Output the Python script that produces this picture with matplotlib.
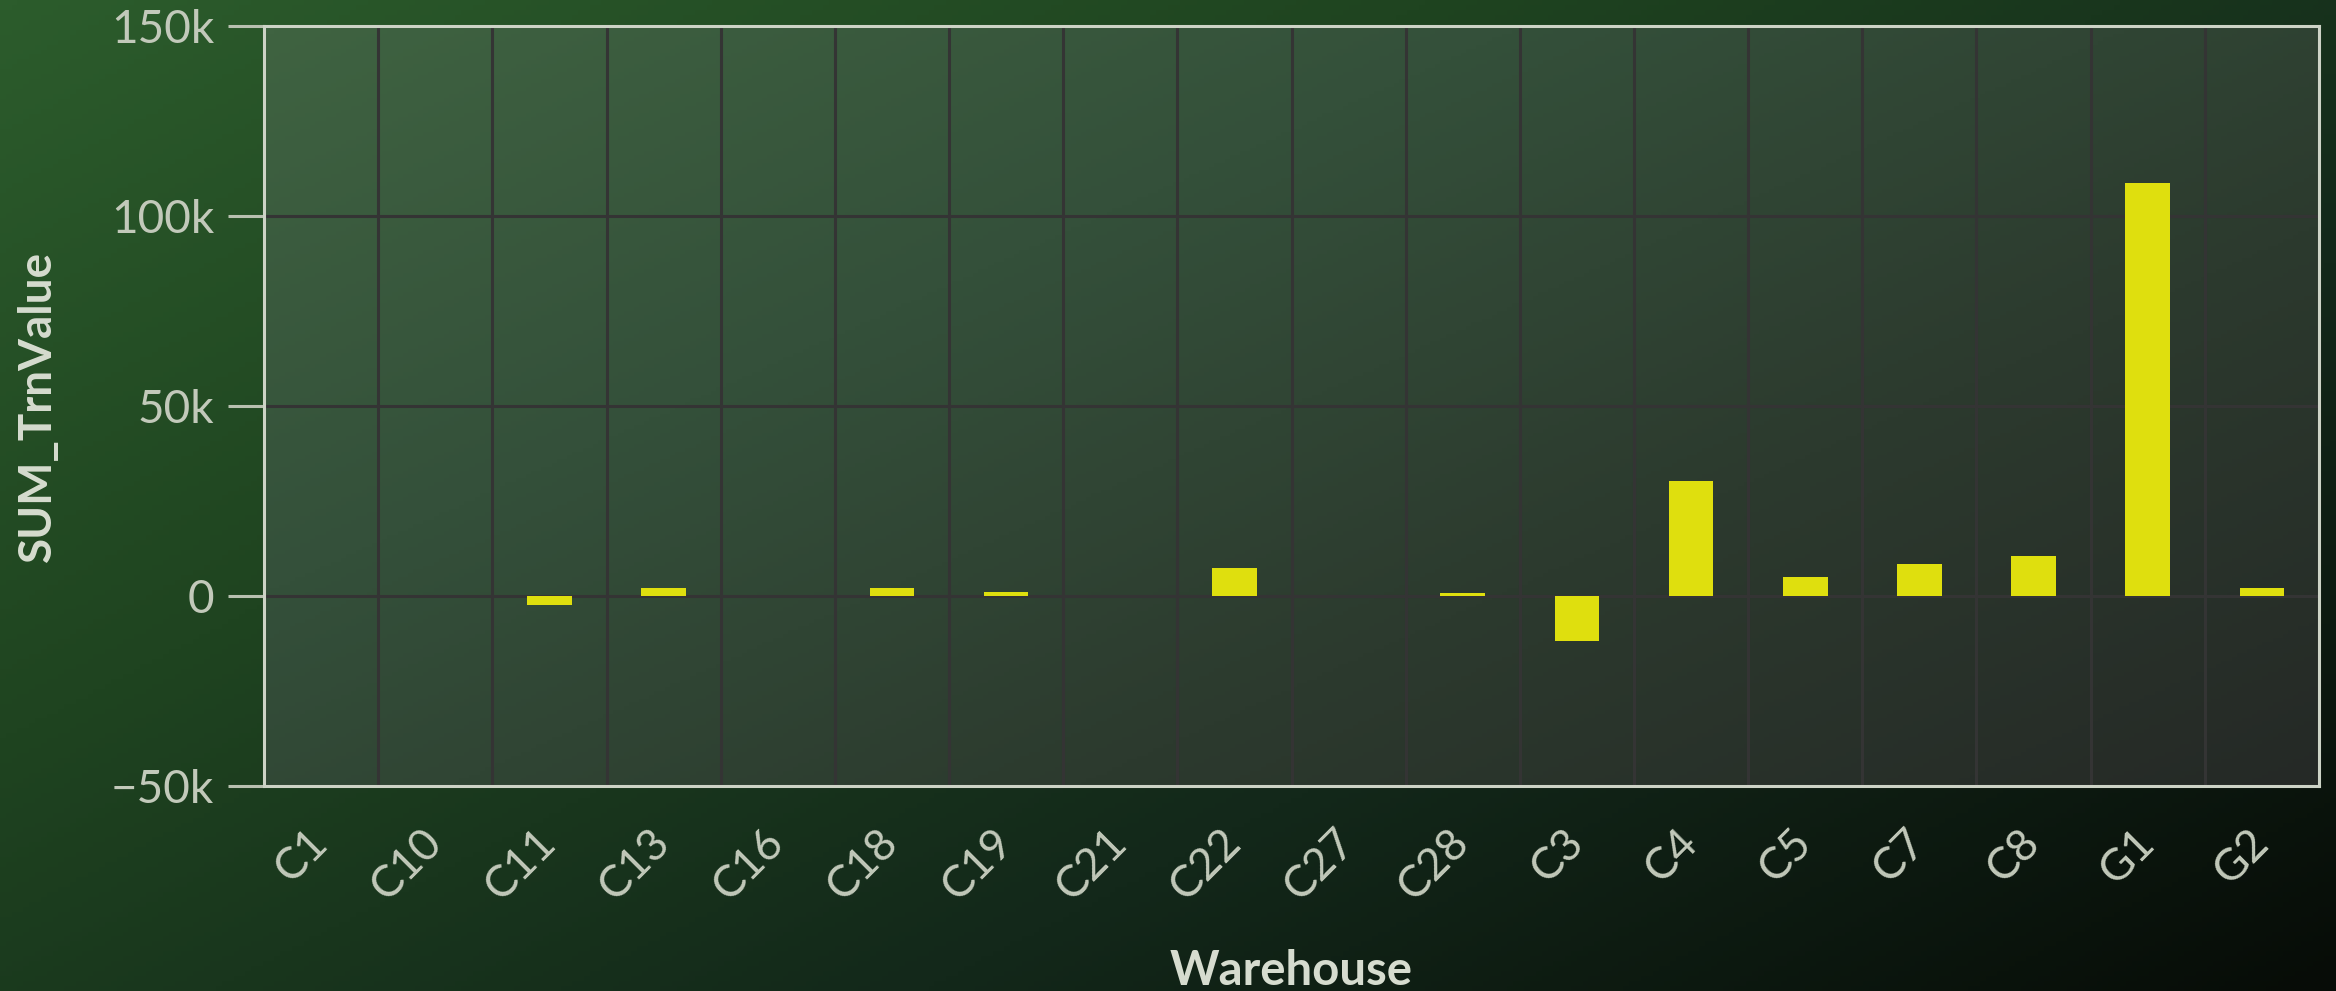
import numpy as np
import matplotlib
matplotlib.use("Agg")
import matplotlib.pyplot as plt
from matplotlib.colors import LinearSegmentedColormap
from matplotlib.ticker import FuncFormatter, FixedLocator

# ---- data ----
warehouses = ["C1", "C10", "C11", "C13", "C16", "C18", "C19", "C21", "C22",
              "C27", "C28", "C3", "C4", "C5", "C7", "C8", "G1", "G2"]
sum_trn_value = [0, 0, -2400, 2100, 0, 2100, 1000, 0, 7300,
                 0, 800, -11900, 30300, 5000, 8300, 10500, 108700, 2000]
y_ticks = [-50000, 0, 50000, 100000, 150000]
x_title = "Warehouse"
y_title = "SUM_TrnValue"

plt.rcParams['font.family'] = ['Lato', 'DejaVu Sans']

W, H, DPI = 2336, 991, 100
fig = plt.figure(figsize=(W / DPI, H / DPI), dpi=DPI)

# background diagonal gradient
bg = fig.add_axes([0, 0, 1, 1], zorder=-10)
bg.set_axis_off()
yy, xx = np.mgrid[0:1:200j, 0:1:400j]
t = (xx * 0.55 + yy * 0.45)
bg_cmap = LinearSegmentedColormap.from_list(
    "bg", ["#2c5c2c", "#1f4420", "#13281a", "#070c07"])
bg.imshow(t, cmap=bg_cmap, aspect="auto", extent=[0, 1, 0, 1],
          origin="upper", vmin=0, vmax=1)
bg.set_xlim(0, 1)
bg.set_ylim(0, 1)

left, right = 264 / W, 2319 / W
bottom, top = 1 - 786 / H, 1 - 26 / H
ax = fig.add_axes([left, bottom, right - left, top - bottom])
ax.set_facecolor("none")

# plot area gradient
pa_cmap = LinearSegmentedColormap.from_list(
    "pa", ["#3f6341", "#34503a", "#2c3a2e", "#252926"])
ax.imshow(t, cmap=pa_cmap, aspect="auto", extent=[0, 1, 0, 1],
          origin="upper", vmin=0, vmax=1, transform=ax.transAxes, zorder=0)

x = np.arange(len(warehouses))
ax.bar(x, sum_trn_value, width=0.39, color="#dfdf0e", zorder=3)

ax.set_xlim(-0.5, len(warehouses) - 0.5)
ax.set_ylim(y_ticks[0], y_ticks[-1])
ax.set_yticks(y_ticks)
ax.yaxis.set_major_formatter(FuncFormatter(
    lambda v, p: "0" if v == 0 else ("\u2212" if v < 0 else "") + f"{abs(int(v))//1000}k"))

ax.set_xticks(x)
ax.set_xticklabels(warehouses, rotation=45, ha="right", va="center",
                   rotation_mode="anchor")
ax.xaxis.set_minor_locator(FixedLocator(np.arange(-0.5, len(warehouses), 1.0)))

grid_col = "#343434"
ax.grid(False)
ax.xaxis.grid(True, which="minor", color=grid_col, linewidth=2.2, zorder=1)
ax.yaxis.grid(True, which="major", color=grid_col, linewidth=2.2, zorder=1)
ax.set_axisbelow(True)

tick_col = "#c2c9ba"
ax.tick_params(axis="y", which="major", length=26, width=2.2, color="#b8c0b0",
               labelsize=33, labelcolor=tick_col, pad=10)
ax.tick_params(axis="x", which="both", length=0, labelsize=32,
               labelcolor=tick_col, pad=36)
for lbl in ax.get_xticklabels():
    lbl.set_x(lbl.get_position()[0])

for s in ax.spines.values():
    s.set_color("#cdd3c6")
    s.set_linewidth(2.2)
    s.set_zorder(5)

ax.set_xlabel(x_title, fontsize=34, fontweight="bold", color="#d6dccf")
ax.set_ylabel(y_title, fontsize=33, fontweight="bold", color="#d6dccf")
ax.xaxis.set_label_coords(0.5, -0.243)
ax.xaxis.label.set_va("center")
ax.yaxis.set_label_coords(-0.110, 0.5)
ax.yaxis.label.set_va("center")

fig.savefig("out.png", dpi=DPI)
